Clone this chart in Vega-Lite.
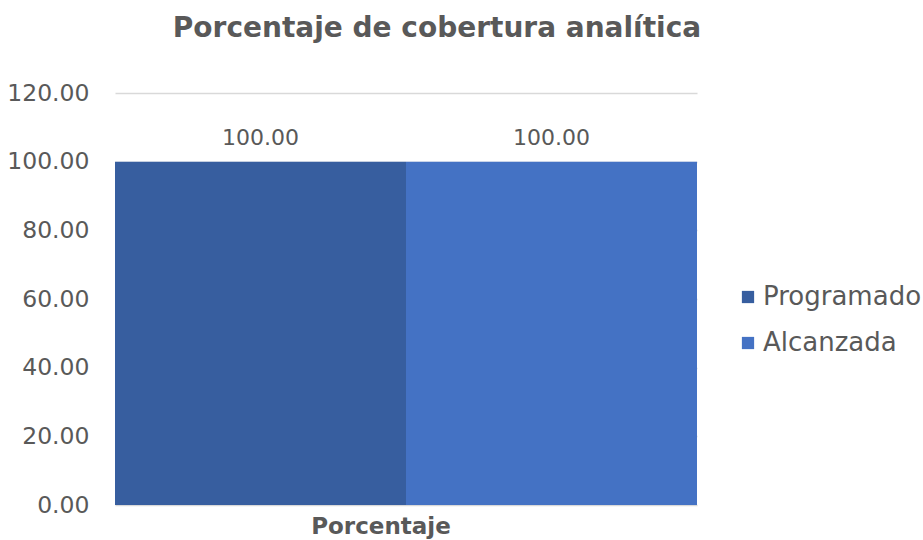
{
  "$schema": "https://vega.github.io/schema/vega-lite/v6.json",
  "width": 582,
  "height": 412,
  "autosize": "none",
  "padding": {"left": 115, "top": 93, "right": 226, "bottom": 35},
  "background": "white",
  "config": {
    "font": "DejaVu Sans",
    "view": {"stroke": null},
    "axis": {"labelFont": "DejaVu Sans", "titleFont": "DejaVu Sans"}
  },
  "title": {
    "text": "Porcentaje de cobertura analítica",
    "font": "DejaVu Sans",
    "fontSize": 28,
    "fontWeight": "bold",
    "color": "#595959",
    "anchor": "middle",
    "dx": 31,
    "offset": 38
  },
  "data": {
    "values": [
      {"categoria": "Porcentaje", "serie": "Programado", "valor": 100},
      {"categoria": "Porcentaje", "serie": "Alcanzada", "valor": 100}
    ]
  },
  "encoding": {
    "x": {
      "field": "categoria",
      "type": "nominal",
      "scale": {"paddingInner": 0, "paddingOuter": 0},
      "axis": {
        "title": null,
        "labelAngle": 0,
        "domain": false,
        "ticks": false,
        "labelFontWeight": "bold",
        "labelFontSize": 23,
        "labelColor": "#595959",
        "labelPadding": 10,
        "labelOffset": -25
      }
    },
    "xOffset": {
      "field": "serie",
      "type": "nominal",
      "sort": ["Programado", "Alcanzada"],
      "scale": {"paddingInner": 0, "paddingOuter": 0}
    },
    "y": {
      "field": "valor",
      "type": "quantitative",
      "scale": {"domain": [0, 120]},
      "axis": {
        "values": [0, 20, 40, 60, 80, 100, 120],
        "format": ".2f",
        "title": null,
        "domain": false,
        "ticks": false,
        "labelPadding": 26,
        "labelFontSize": 23.5,
        "labelColor": "#595959",
        "gridColor": "#D9D9D9",
        "gridWidth": 1.5
      }
    }
  },
  "layer": [
    {
      "mark": {"type": "bar"},
      "encoding": {
        "color": {
          "field": "serie",
          "type": "nominal",
          "sort": ["Programado", "Alcanzada"],
          "scale": {"domain": ["Programado", "Alcanzada"], "range": ["#375E9F", "#4472C4"]},
          "legend": {
            "title": null,
            "orient": "none",
            "legendX": 620,
            "legendY": 191,
            "symbolType": "square",
            "symbolSize": 150,
            "symbolStrokeWidth": 0,
            "labelFontSize": 26,
            "labelColor": "#595959",
            "labelOffset": 2,
            "rowPadding": 20,
            "padding": 0
          }
        }
      }
    },
    {
      "mark": {"type": "text", "dy": -24, "fontSize": 22, "color": "#595959"},
      "encoding": {
        "text": {"field": "valor", "type": "quantitative", "format": ".2f"}
      }
    }
  ]
}
